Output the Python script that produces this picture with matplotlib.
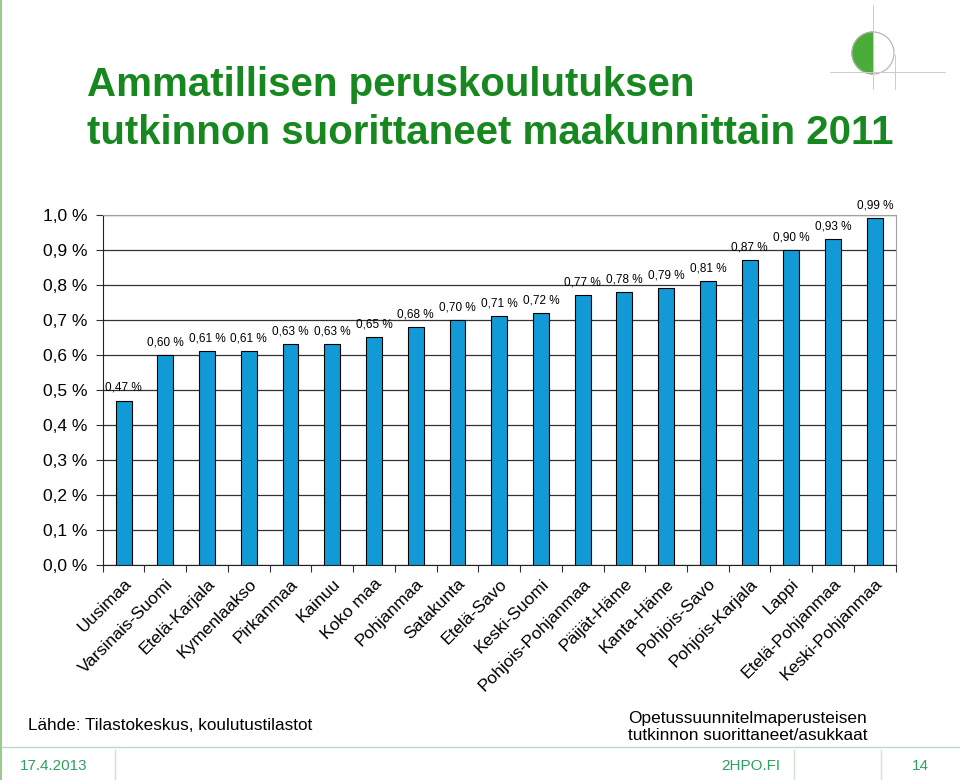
import numpy as np
import matplotlib
matplotlib.use("Agg")
from matplotlib import pyplot as plt
from matplotlib.patches import Wedge, Circle
from matplotlib.lines import Line2D

plt.rcParams['font.family'] = ['Liberation Sans', 'DejaVu Sans']

regions = ["Uusimaa", "Varsinais-Suomi", "Etelä-Karjala", "Kymenlaakso", "Pirkanmaa",
           "Kainuu", "Koko maa", "Pohjanmaa", "Satakunta", "Etelä-Savo", "Keski-Suomi",
           "Pohjois-Pohjanmaa", "Päijät-Häme", "Kanta-Häme", "Pohjois-Savo",
           "Pohjois-Karjala", "Lappi", "Etelä-Pohjanmaa", "Keski-Pohjanmaa"]
values = [0.47, 0.60, 0.61, 0.61, 0.63, 0.63, 0.65, 0.68, 0.70, 0.71, 0.72,
          0.77, 0.78, 0.79, 0.81, 0.87, 0.90, 0.93, 0.99]
yticks = np.arange(0, 1.01, 0.1)

fig = plt.figure(figsize=(9.6, 7.8), dpi=100)
ax = fig.add_axes([0.107, 0.2756, 0.826, 0.4488])

x = np.arange(len(values))
ax.bar(x, values, width=0.38, color='#119ad6', edgecolor='black', linewidth=0.8, zorder=3)
for xi, v in zip(x, values):
    ax.annotate(("%.2f %%" % v).replace('.', ','), (xi, v), xytext=(0, 5),
                textcoords='offset points', ha='center', va='bottom', fontsize=8.5, zorder=4)

ax.set_xlim(-0.5, len(values) - 0.5)
ax.set_ylim(0, 1.0)
ax.set_yticks(yticks)
ax.set_yticklabels([("%.1f %%" % t).replace('.', ',') for t in yticks], fontsize=12.5)
ax.yaxis.grid(True, color='#333333', linewidth=0.9, zorder=0)
ax.set_axisbelow(True)

ax.set_xticks(np.arange(-0.5, len(values)), minor=False)
ax.set_xticklabels([])
ax.set_xticks(x, minor=True)
ax.set_xticklabels(regions, minor=True, rotation=45, ha='right', rotation_mode='anchor', fontsize=12.5)
ax.tick_params(axis='x', which='minor', length=0, pad=8)
ax.tick_params(axis='x', which='major', length=5, direction='out', color='#333333')
ax.tick_params(axis='y', length=5, direction='out', pad=6, color='#333333')

for s in ['top', 'right']:
    ax.spines[s].set_color('#a0a0a0')
for s in ['left', 'bottom']:
    ax.spines[s].set_color('#222222')

# title
fig.text(87 / 960, 1 - 85 / 780, "Ammatillisen peruskoulutuksen", fontsize=29, fontweight='bold',
         color='#17871f', va='center', ha='left')
fig.text(87 / 960, 1 - 133 / 780, "tutkinnon suorittaneet maakunnittain 2011", fontsize=29,
         fontweight='bold', color='#17871f', va='center', ha='left')

# source and note
fig.text(28 / 960, 1 - 725 / 780, "Lähde: Tilastokeskus, koulutustilastot", fontsize=12.3,
         va='center', ha='left')
fig.text(628 / 960, 1 - 727 / 780, "Opetussuunnitelmaperusteisen\ntutkinnon suorittaneet/asukkaat",
         fontsize=12.4, va='center', ha='left', linespacing=1.1)

# footer
fc = '#2ea060'
fig.add_artist(Line2D([0, 1], [1 - 747 / 780] * 2, color='#b8dcc4', lw=1))
for xx in [115, 794, 881]:
    fig.add_artist(Line2D([xx / 960] * 2, [0, 1 - 750 / 780], color='#cce4d2', lw=1))
fig.add_artist(Line2D([1 / 960] * 2, [0, 1], color='#9cc98c', lw=1.5))
fig.text(20 / 960, 1 - 766 / 780, "17.4.2013", fontsize=11, color=fc, va='center', ha='left')
fig.text(780 / 960, 1 - 766 / 780, "2HPO.FI", fontsize=11, color=fc, va='center', ha='right')
fig.text(920 / 960, 1 - 766 / 780, "14", fontsize=11, color=fc, va='center', ha='center')

# logo
lax = fig.add_axes([820 / 960, 1 - 90 / 780, 140 / 960, 90 / 780])
lax.set_xlim(820, 960)
lax.set_ylim(90, 0)
lax.set_aspect('equal')
lax.axis('off')
lax.add_patch(Wedge((873, 53), 21, 90, 270, facecolor='#4aad3a', edgecolor='#4aad3a', lw=0.8))
lax.add_patch(Circle((873, 53), 21, facecolor='none', edgecolor='#b0b0b0', lw=0.8))
lax.plot([873, 873], [5, 90], color='#cccccc', lw=0.7)
lax.plot([830, 945], [72, 72], color='#cccccc', lw=0.7)
lax.plot([895, 895], [55, 90], color='#cccccc', lw=0.7)

fig.savefig("out.png", dpi=100)
